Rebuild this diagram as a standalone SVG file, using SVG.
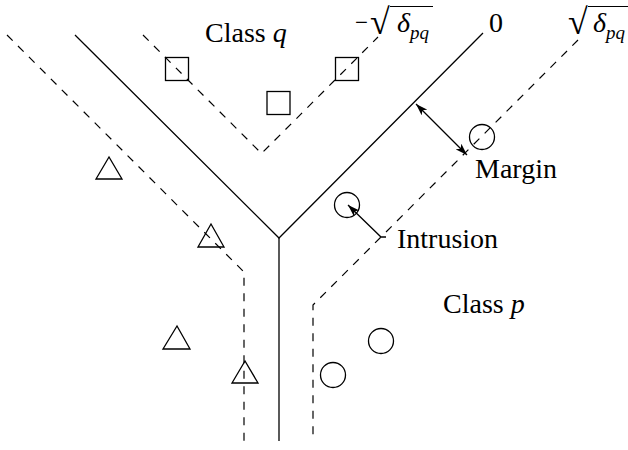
<svg xmlns="http://www.w3.org/2000/svg" width="628" height="450" viewBox="0 0 628 450">
  <style>
    .solid { fill: none; stroke: #000; stroke-width: 1.3; }
    .dash { fill: none; stroke: #000; stroke-width: 1.2; stroke-dasharray: 8 7.5; }
    .mark { fill: none; stroke: #000; stroke-width: 1.3; }
    .arrow { fill: none; stroke: #000; stroke-width: 1.3; }
    .bar { stroke: #000; stroke-width: 1.2; }
    text { fill: #000; font-family: "Liberation Serif", "Times New Roman", serif; }
    .it { font-style: italic; }
  </style>
  <defs>
    <marker id="head" viewBox="0 0 12 8" refX="12" refY="4" markerWidth="12" markerHeight="8" markerUnits="userSpaceOnUse" orient="auto-start-reverse">
      <path d="M0,0 L12,4 L0,8 L3,4 z" fill="#000"/>
    </marker>
  </defs>

  <rect width="628" height="450" fill="#fff"/>

  <!-- decision boundary, margin lines and pointer arrows -->
  <g id="connectors">
    <polyline id="boundary" class="solid" points="75,35 279,238 483,33"/>
    <line id="boundary-stem" class="solid" x1="279" y1="238" x2="279" y2="441"/>
    <polyline id="margin-q" class="dash" points="143,35 261.5,153.5 378,37"/>
    <polyline id="margin-left" class="dash" points="7,35 244,272 244,441"/>
    <polyline id="margin-p" class="dash" points="578,40 313,305 313,441"/>
    <line id="margin-arrow" class="arrow" x1="416" y1="104" x2="467" y2="155" marker-start="url(#head)" marker-end="url(#head)"/>
    <polyline id="intrusion-arrow" class="arrow" points="386,237 381,237 348,205" marker-end="url(#head)"/>
  </g>

  <!-- class q samples -->
  <g id="class-q">
    <rect class="mark" x="165.5" y="57.5" width="23" height="23"/>
    <rect class="mark" x="335.5" y="57.5" width="23" height="23"/>
    <rect class="mark" x="267" y="91.5" width="23" height="23"/>
  </g>

  <!-- third class samples -->
  <g id="class-r">
    <polygon class="mark" points="109,157 96,179 122,179"/>
    <polygon class="mark" points="211,224 198,247 224,247"/>
    <polygon class="mark" points="177,326 163,349 190,349"/>
    <polygon class="mark" points="245,361 232,383 258,383"/>
  </g>

  <!-- class p samples -->
  <g id="class-p">
    <circle class="mark" cx="482" cy="137" r="12.5"/>
    <circle class="mark" cx="347" cy="205" r="12.5"/>
    <circle class="mark" cx="381" cy="341" r="12.5"/>
    <circle class="mark" cx="333" cy="375" r="12.5"/>
  </g>

  <!-- labels -->
  <g id="labels" font-size="28">
    <text x="205" y="42">Class <tspan class="it">q</tspan></text>
    <text x="443" y="313">Class <tspan class="it">p</tspan></text>
    <text x="475" y="178">Margin</text>
    <text x="397" y="248">Intrusion</text>
    <text x="489" y="32">0</text>
  </g>

  <!-- level labels: -sqrt(delta_pq) and sqrt(delta_pq) -->
  <g id="level-neg">
    <text x="355" y="30" font-size="23">−</text>
    <text x="370" y="34" font-size="36">√</text>
    <line class="bar" x1="390" y1="6.5" x2="433" y2="6.5"/>
    <text class="it" x="397" y="32" font-size="28">δ</text>
    <text class="it" x="410" y="39" font-size="19">pq</text>
  </g>
  <g id="level-pos">
    <text x="568" y="34" font-size="36">√</text>
    <line class="bar" x1="588" y1="6.5" x2="628" y2="6.5"/>
    <text class="it" x="593" y="32" font-size="28">δ</text>
    <text class="it" x="606" y="39" font-size="19">pq</text>
  </g>
</svg>
